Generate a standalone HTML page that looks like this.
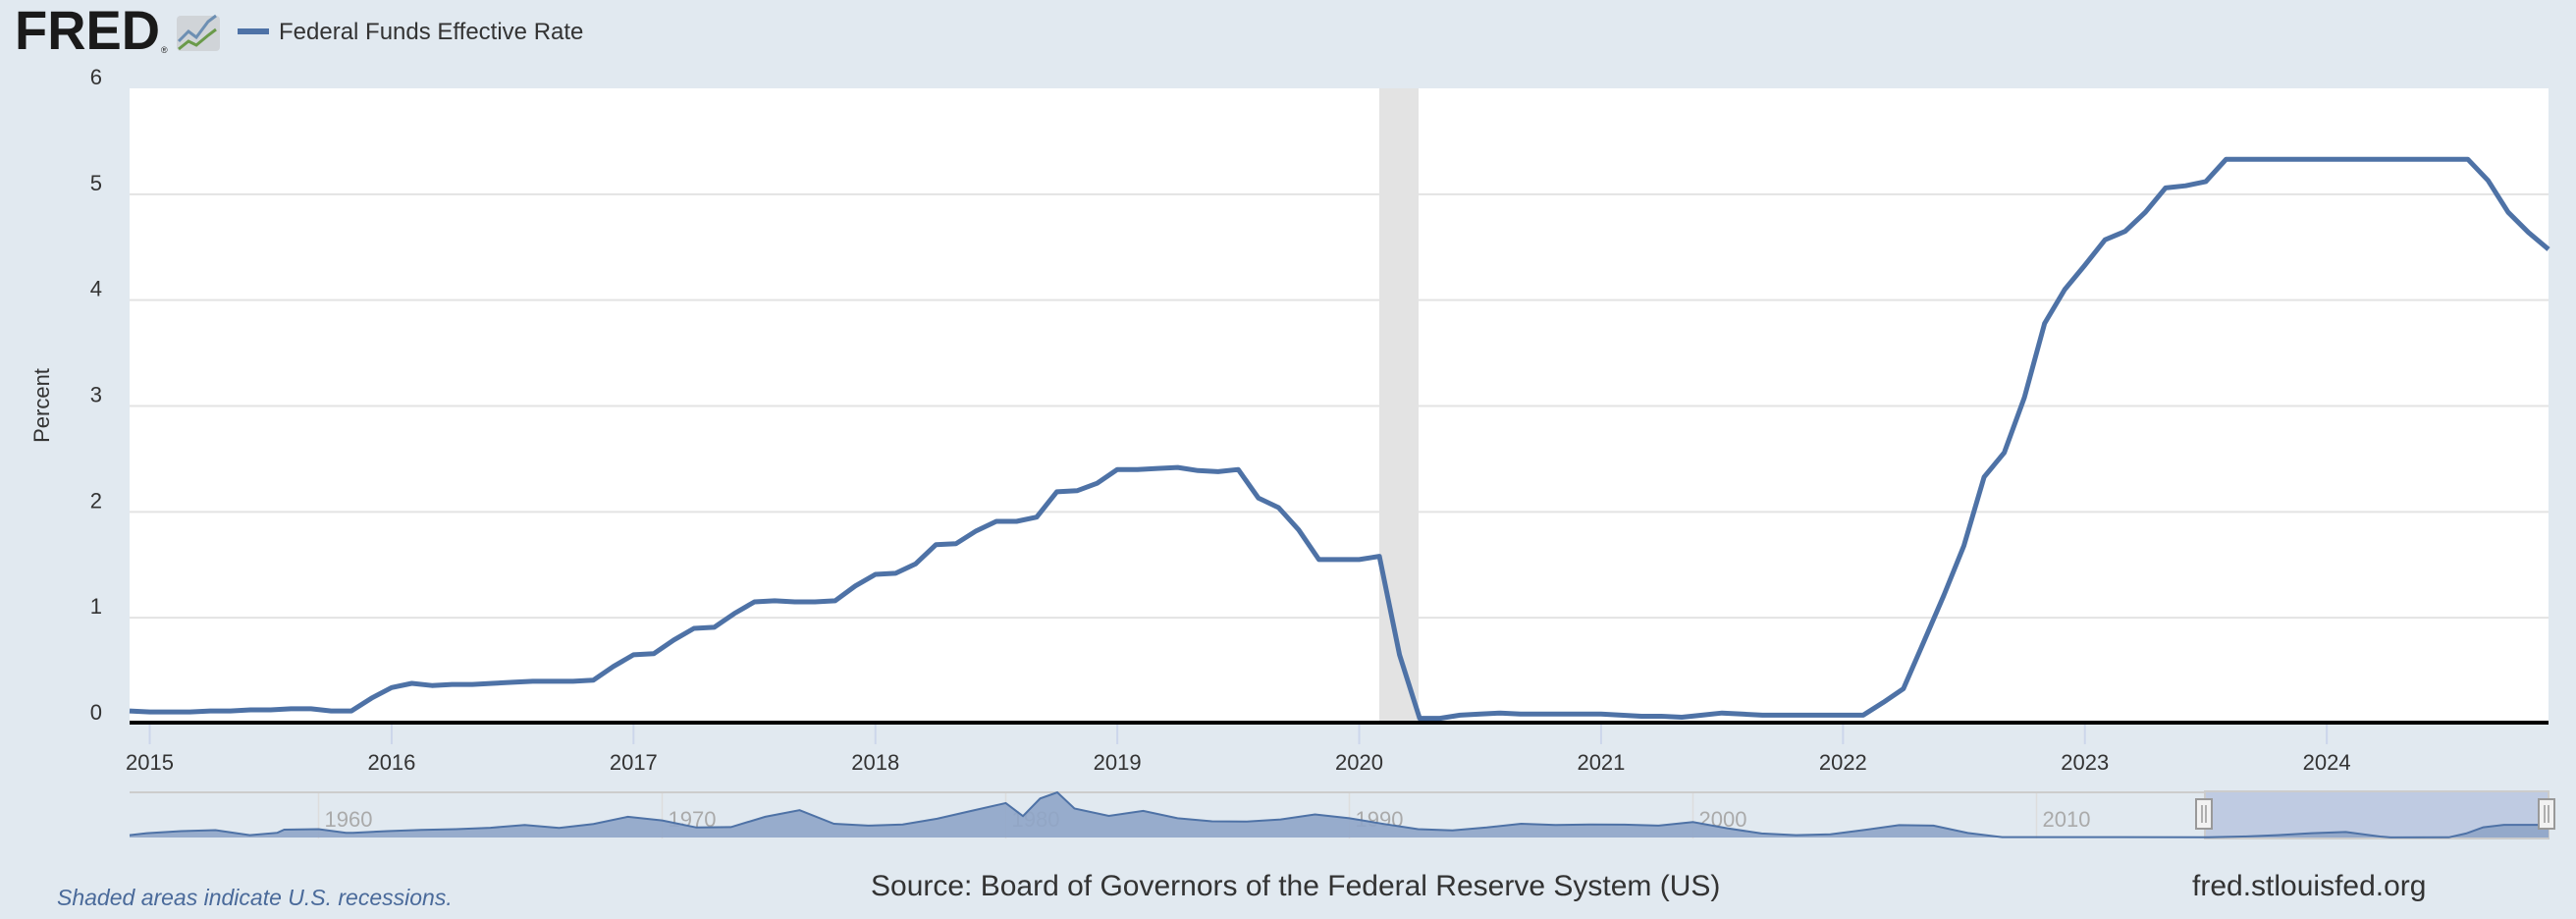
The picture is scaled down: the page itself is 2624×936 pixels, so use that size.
<!DOCTYPE html>
<html><head><meta charset="utf-8"><style>
html,body{margin:0;padding:0;background:#e1e9f0;width:2624px;height:936px;overflow:hidden}
svg{display:block}
text{font-family:"Liberation Sans",sans-serif}
</style></head><body>
<svg id="s" width="2624" height="936" xmlns="http://www.w3.org/2000/svg">
<rect width="2624" height="936" fill="#e1e9f0"/>
<text x="15" y="50" font-size="56" font-weight="bold" fill="#1a1a1a" textLength="148" lengthAdjust="spacingAndGlyphs">FRED</text>
<text x="164" y="54" font-size="9" fill="#1a1a1a">®</text>
<rect x="180" y="16" width="44" height="36" rx="4" fill="#d0d4d8"/>
<polyline points="182,42 192,32 200,38 212,22 220,16" fill="none" stroke="#6d8fb3" stroke-width="3"/>
<polyline points="182,50 192,42 200,46 212,36 220,30" fill="none" stroke="#6a9a4a" stroke-width="3"/>
<rect x="242" y="29" width="32" height="6" fill="#4e72a6"/>
<text x="284" y="40" font-size="24" fill="#333">Federal Funds Effective Rate</text>
<rect x="132" y="90" width="2464" height="647" fill="#fff"/>
<rect x="1405" y="90" width="40" height="647" fill="#e3e3e3"/>
<g stroke="#e3e3e3" stroke-width="2" id="grid"></g>
<g font-size="22" fill="#333" text-anchor="end" id="ylab"></g>
<text transform="translate(50,413) rotate(-90)" font-size="22" fill="#333" text-anchor="middle">Percent</text>
<polyline id="line" fill="none" stroke="#4e72a6" stroke-width="5" stroke-linejoin="round"/>
<rect x="132" y="734" width="2464" height="4" fill="#000"/>
<g id="xt" stroke="#ccd6eb" stroke-width="2"></g>
<g id="xl" font-size="22" fill="#333" text-anchor="middle"></g>
<rect x="132" y="806" width="2464" height="2" fill="#ccc"/>
<g id="nav"></g>
<rect x="2246" y="806" width="350" height="48" fill="#bfcbe2" stroke="#ccc" stroke-width="2"/>
<polygon id="navarea" fill="#8fa5c8" opacity="0.9"/>
<polyline id="navline" fill="none" stroke="#4e72a6" stroke-width="2"/>
<rect x="2237" y="814" width="16" height="30" fill="#f2f2f2" stroke="#999" stroke-width="2"/>
<line x1="2243" y1="820" x2="2243" y2="838" stroke="#999" stroke-width="1.5"/><line x1="2247" y1="820" x2="2247" y2="838" stroke="#999" stroke-width="1.5"/>
<rect x="2586" y="814" width="16" height="30" fill="#f2f2f2" stroke="#999" stroke-width="2"/>
<line x1="2592" y1="820" x2="2592" y2="838" stroke="#999" stroke-width="1.5"/><line x1="2596" y1="820" x2="2596" y2="838" stroke="#999" stroke-width="1.5"/>
<text x="58" y="922" font-size="23" font-style="italic" fill="#4a6a9a">Shaded areas indicate U.S. recessions.</text>
<text x="887" y="912" font-size="30" fill="#333">Source: Board of Governors of the Federal Reserve System (US)</text>
<text x="2233" y="912" font-size="30" fill="#333">fred.stlouisfed.org</text>
</svg>
<script>
var NS="http://www.w3.org/2000/svg";
function el(p,t,a,txt){var e=document.createElementNS(NS,t);for(var k in a)e.setAttribute(k,a[k]);if(txt!=null)e.textContent=txt;document.getElementById(p).appendChild(e);return e;}
var Y=function(v){return 737-107.83*v};
for(var i=1;i<=5;i++)el("grid","line",{x1:132,x2:2596,y1:Y(i),y2:Y(i)});
for(var i=0;i<=6;i++)el("ylab","text",{x:104,y:Y(i)-4},i);
var d=[0.12,
0.11,0.11,0.11,0.12,0.12,0.13,0.13,0.14,0.14,0.12,0.12,0.24,
0.34,0.38,0.36,0.37,0.37,0.38,0.39,0.40,0.40,0.40,0.41,0.54,
0.65,0.66,0.79,0.90,0.91,1.04,1.15,1.16,1.15,1.15,1.16,1.30,
1.41,1.42,1.51,1.69,1.70,1.82,1.91,1.91,1.95,2.19,2.20,2.27,
2.40,2.40,2.41,2.42,2.39,2.38,2.40,2.13,2.04,1.83,1.55,1.55,
1.55,1.58,0.65,0.05,0.05,0.08,0.09,0.10,0.09,0.09,0.09,0.09,
0.09,0.08,0.07,0.07,0.06,0.08,0.10,0.09,0.08,0.08,0.08,0.08,
0.08,0.08,0.20,0.33,0.77,1.21,1.68,2.33,2.56,3.08,3.78,4.10,
4.33,4.57,4.65,4.83,5.06,5.08,5.12,5.33,5.33,5.33,5.33,5.33,
5.33,5.33,5.33,5.33,5.33,5.33,5.33,5.33,5.13,4.83,4.64,4.48];
var pts=d.map(function(v,i){return (132+i*2464/120).toFixed(1)+","+Y(v).toFixed(1)}).join(" ");
document.getElementById("line").setAttribute("points",pts);
for(var y=2015;y<=2024;y++){var x=132+((y-2015)*12+1)*2464/120;el("xt","line",{x1:x,x2:x,y1:738,y2:758});el("xl","text",{x:x,y:784},y);}
for(var y=1960;y<=2020;y+=10){var x=132+(y-1954.5)*35;el("nav","line",{x1:x,x2:x,y1:808,y2:854,stroke:"#ddd","stroke-width":1.5});el("nav","text",{x:x+6,y:842,"font-size":22,fill:"#aaa"},y);}
var n=[[1954.5,1.0],[1955,1.8],[1956,2.7],[1957,3.1],[1958,1.0],[1958.8,2.0],[1959,3.3],[1960,3.5],[1960.8,2.0],[1961,2.0],[1962,2.7],[1963,3.2],[1964,3.5],[1965,4.1],[1966,5.3],[1967,4.0],[1968,5.7],[1969,8.7],[1970,7.2],[1971,4.2],[1972,4.4],[1973,8.7],[1974,11.5],[1975,5.8],[1976,5.0],[1977,5.5],[1978,7.9],[1979,11.2],[1980,14.5],[1980.5,9],[1981,16.4],[1981.5,19],[1982,12.2],[1983,9.1],[1984,11.2],[1985,8.1],[1986,6.8],[1987,6.7],[1988,7.6],[1989,9.7],[1990,8.1],[1991,5.7],[1992,3.5],[1993,3.0],[1994,4.2],[1995,5.8],[1996,5.3],[1997,5.5],[1998,5.4],[1999,5.0],[2000,6.5],[2001,3.9],[2002,1.7],[2003,1.0],[2004,1.35],[2005,3.2],[2006,5.2],[2007,5.0],[2008,1.9],[2009,0.16],[2015,0.13],[2016,0.4],[2017,1.0],[2018,1.8],[2019,2.3],[2020,0.4],[2020.3,0.05],[2022,0.1],[2022.5,1.7],[2023,4.3],[2023.6,5.33],[2024.7,5.33],[2024.9,4.5]];
var np=n.map(function(p){return (132+(p[0]-1954.5)*35).toFixed(1)+","+(853-p[1]*2.42).toFixed(1)});
document.getElementById("navline").setAttribute("points",np.join(" "));
document.getElementById("navarea").setAttribute("points",np.join(" ")+" 2596,853 132,853");
</script>
</body></html>
